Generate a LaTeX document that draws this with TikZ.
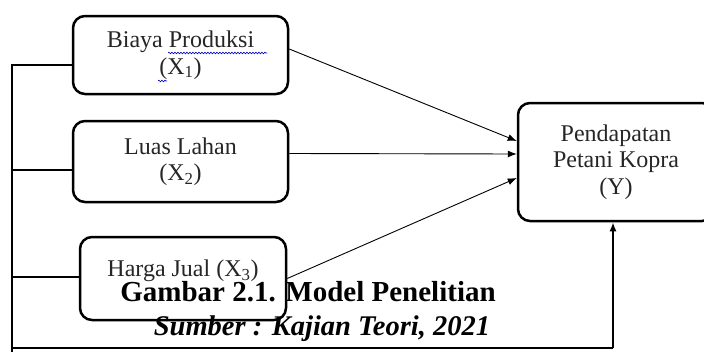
\documentclass[tikz,border=0pt]{standalone}
\usepackage{fontspec}
\setmainfont{Liberation Serif}
\usetikzlibrary{arrows.meta,decorations.pathmorphing}

\begin{document}
\begin{tikzpicture}[x=1pt, y=-1pt, >={Latex[length=9pt,width=7pt]},
    box/.style={draw, line width=2.5pt, rounded corners=12pt, align=center,
        text=black!85, inner sep=0pt, font=\fontsize{24}{26.5}\selectfont},
    bus/.style={line width=2.5pt},
    link/.style={->, line width=0.9pt},
    squiggle/.style={draw=blue!75!black, line width=0.6pt, decorate,
        decoration={snake, amplitude=0.8pt, segment length=3pt}}]
    \useasboundingbox (0,0) rectangle (704,351);
    % variabel bebas
    \node[box, minimum width=215pt, minimum height=78pt] (biaya) at (180.5,55) {Biaya Produksi\\(X\textsubscript{1})};
    \node[box, minimum width=215pt, minimum height=81pt] (luas) at (180.5,161.5) {Luas Lahan\\(X\textsubscript{2})};
    \node[box, minimum width=206pt, minimum height=83pt] (harga) at (183,278.5) {\raisebox{8pt}[0.7em][0.2em]{Harga Jual (X\textsubscript{3})}};
    % variabel terikat
    \node[box, minimum width=196pt, minimum height=118pt] (pendapatan) at (616,162) {Pendapatan\\Petani Kopra\\(Y)};
    \draw[squiggle] (168,53) -- (267,53);
    \draw[squiggle] (158,81) -- (167,81);
    % pengaruh parsial
    \draw[link] ([yshift=6pt]biaya.east) -- ([yshift=21pt]pendapatan.west);
    \draw[link] ([yshift=8pt]luas.east) -- ([yshift=8pt]pendapatan.west);
    \draw[link] (harga.east) -- ([yshift=-16pt]pendapatan.west);
    % pengaruh simultan
    \coordinate (bl) at (12,348);
    \coordinate (br) at (613,348);
    \draw[bus] ([yshift=-10pt]biaya.west) -| (bl) -- (br);
    \draw[bus] ([yshift=-8.5pt]luas.west) -- ([yshift=-8.5pt]luas.west -| bl);
    \draw[bus] ([yshift=1.5pt]harga.west) -- ([yshift=1.5pt]harga.west -| bl);
    \draw[bus] (bl) -- ++(0,4);
    \draw[bus, ->] (br) -- (pendapatan.south -| br);
    % keterangan
    \node[anchor=base, font=\bfseries\fontsize{29}{30}\selectfont] (judul) at (308,301) {Gambar 2.1. Model Penelitian};
    \node[anchor=base, font=\bfseries\itshape\fontsize{28.5}{30}\selectfont] (sumber) at (322,335) {Sumber : Kajian Teori, 2021};
\end{tikzpicture}
\end{document}
